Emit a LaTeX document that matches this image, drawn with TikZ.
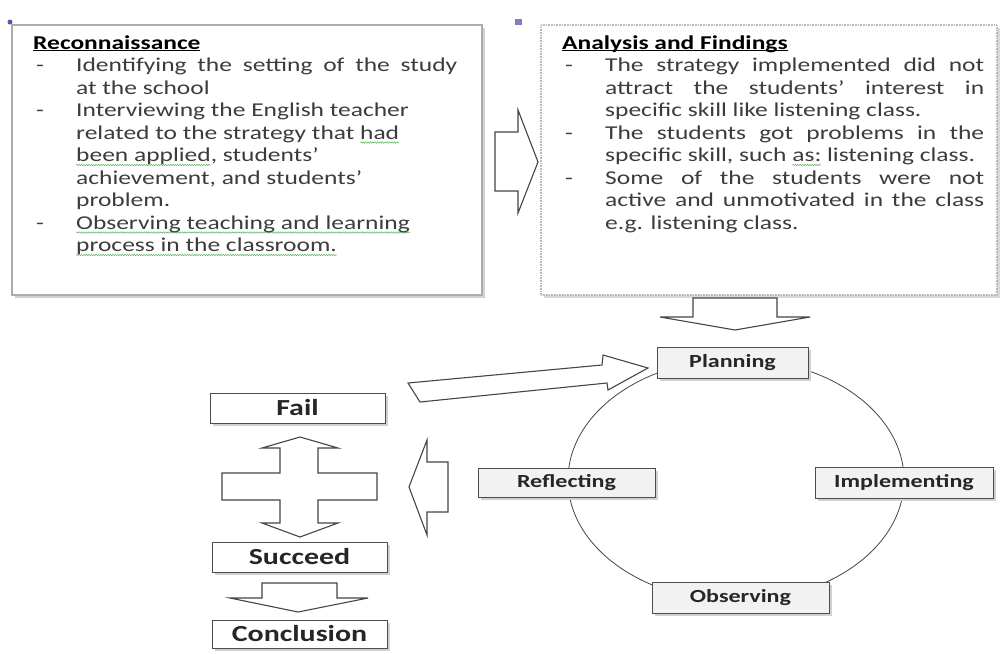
\documentclass[tikz,border=0pt]{standalone}
\usepackage{fontspec}
\setmainfont{Carlito}[FakeStretch=1.3]
\usetikzlibrary{shadows,decorations.pathmorphing}
\definecolor{txt}{HTML}{3C3C3C}
\definecolor{wavegreen}{HTML}{5FB55F}
\definecolor{edge}{HTML}{454545}
\newcommand\gwave[1]{\sbox0{#1}\rlap{\tikz[overlay]\draw[wavegreen, line width=0.5pt, decorate, decoration={snake, amplitude=0.7pt, segment length=2.4pt}] (0pt,-3.5pt) -- (\wd0,-3.5pt);}\usebox0}
\newcommand\myul[1]{\sbox0{#1}\rlap{\rule[-2.2pt]{\wd0}{1.3pt}}\usebox0}
\newcommand\mydash{\makebox[43pt][l]{\hspace{3pt}-}}
\newcommand\myind{\hspace*{43pt}}
\tikzset{
  bigboxA/.style={draw=gray!65, line width=1.8pt, fill=white, inner sep=0,
    drop shadow={shadow xshift=2.5pt, shadow yshift=-2.5pt, fill=black!18, opacity=1}},
  bigboxB/.style={draw=gray!55, line width=2.2pt, dash pattern=on 1pt off 0.6pt, fill=white, inner sep=0,
    drop shadow={shadow xshift=2.5pt, shadow yshift=-2.5pt, fill=black!15, opacity=1}},
  bodytext/.style={anchor=base west, inner sep=0, text=txt, font=\fontsize{19.6}{22.5}\selectfont},
  cyc/.style={draw=gray!60!black, fill=gray!10, line width=0.8pt, minimum height=31pt, inner sep=0,
    font=\fontsize{18.5}{20}\selectfont\bfseries, text=black!85,
    drop shadow={shadow xshift=2.5pt, shadow yshift=-2.5pt, fill=black!18, opacity=1}},
  outc/.style={draw=gray!60!black, fill=white, line width=0.9pt, minimum width=175pt, minimum height=30pt, inner sep=0,
    font=\fontsize{23}{25}\selectfont\bfseries, text=black!85,
    drop shadow={shadow xshift=3pt, shadow yshift=-3pt, fill=black!18, opacity=1}},
  blk/.style={draw=edge, line width=1.1pt, fill=white, line join=miter}
}
\begin{document}
\begin{tikzpicture}[x=1pt,y=-1pt]
\useasboundingbox (0,0) rectangle (1000,653);
\fill[white] (0,0) rectangle (1000,653);

% top boxes
\node[bigboxA, minimum width=470pt, minimum height=270pt] (recon) at (247,160) {};
\node[bigboxB, minimum width=456pt, minimum height=270pt] (analysis) at (769,160) {};
\fill[blue!30!gray] (10,22) circle (2.5pt);
\fill[blue!35!gray!75] (515,19) rectangle (522,25);

\node[bodytext] (recontext) at (33,49) {\parbox[t]{445pt}{%
\textcolor{black}{\textbf{\myul{Reconnaissance}}}\\
\mydash\makebox[381pt][s]{Identifying the setting of the study}\\
\myind at the school\\
\mydash Interviewing the English teacher\\
\myind related to the strategy that \gwave{had}\\
\myind \gwave{been applied}, students’\\
\myind achievement, and students’\\
\myind problem.\\
\mydash \gwave{Observing teaching and learning}\\
\myind \gwave{process in the classroom.}}};

\node[bodytext] (analysistext) at (562,49) {\parbox[t]{430pt}{%
\textcolor{black}{\textbf{\myul{Analysis and Findings}}}\\
\mydash\makebox[379pt][s]{The strategy implemented did not}\\
\myind\makebox[379pt][s]{attract the students’ interest in}\\
\myind specific skill like listening class.\\
\mydash\makebox[379pt][s]{The students got problems in the}\\
\myind specific skill, such \gwave{as:} listening class.\\
\mydash\makebox[379pt][s]{Some of the students were not}\\
\myind\makebox[379pt][s]{active and unmotivated in the class}\\
\myind e.g. listening class.}};

% cycle
\draw[gray!55!black, line width=0.8pt] (736,480) ellipse [x radius=168pt, y radius=121pt];

% block arrows
\draw[blk] (495,132) -- (518,132) -- (518,110) -- (538,162) -- (518,213) -- (518,191) -- (495,191) -- cycle;
\draw[blk] (693,298) -- (777,298) -- (777,317) -- (810,317) -- (735,330) -- (660,317) -- (693,317) -- cycle;
\draw[blk] (408,383) -- (602,365) -- (603,355) -- (648,368) -- (608,390) -- (607,383) -- (420,402) -- cycle;
\draw[blk] (300,437) -- (338,448) -- (318,448) -- (318,473) -- (377,473) -- (377,500) -- (318,500) -- (318,523)
  -- (338,523) -- (300,537) -- (262,523) -- (280,523) -- (280,500) -- (222,500) -- (222,473) -- (280,473)
  -- (280,448) -- (262,448) -- cycle;
\draw[blk] (409,487) -- (427,440) -- (427,462) -- (448,462) -- (448,512) -- (427,512) -- (427,535) -- cycle;
\draw[blk] (262,583) -- (337,583) -- (337,598) -- (368,598) -- (298,612) -- (230,598) -- (262,598) -- cycle;

% cycle nodes
\node[cyc, minimum width=151pt] (planning) at (732.5,362.5) {\raisebox{3pt}{Planning}};
\node[cyc, minimum width=178pt] (implementing) at (904,482.5) {\raisebox{3pt}{Implementing}};
\node[cyc, minimum width=177pt] (observing) at (740.5,597.5) {\raisebox{3pt}{Observing}};
\node[cyc, minimum width=177pt, minimum height=29pt] (reflecting) at (566.5,482.5) {\raisebox{3pt}{Reflecting}};

% outcome nodes
\node[outc] (fail) at (297.5,408) {Fail};
\node[outc] (succeed) at (299.5,557) {Succeed};
\node[outc, minimum height=28pt] (conclusion) at (299.5,634) {Conclusion};
\end{tikzpicture}
\end{document}
